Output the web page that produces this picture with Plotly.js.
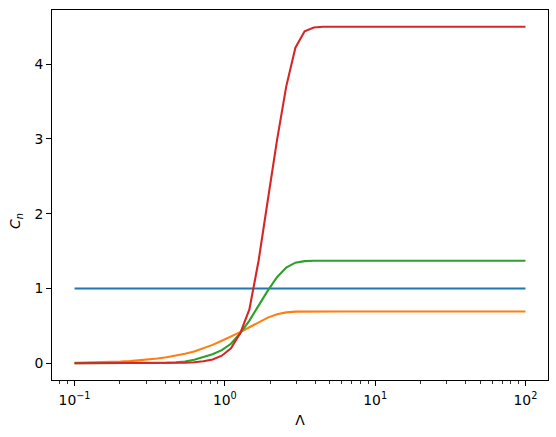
<!DOCTYPE html>
<html>
<head>
<meta charset="utf-8">
<script src="https://cdn.plot.ly/plotly-3.0.1.min.js"></script>
<style>html,body{margin:0;padding:0;background:#fff;}#chart{width:556px;height:437px;}</style>
</head>
<body>
<div id="chart"></div>
<script>
const lambdaVals = [0.1, 0.11514, 0.13257, 0.15264, 0.17575, 0.20236, 0.23300, 0.26827, 0.30888, 0.35565,
  0.40949, 0.47149, 0.54287, 0.62506, 0.71969, 0.82864, 0.95410, 1.09854, 1.26486, 1.45635,
  1.67683, 1.93070, 2.22300, 2.55955, 2.94705, 3.39322, 3.90694, 4.49843, 5.17947, 5.96362,
  6.86649, 7.90604, 9.10298, 10.4811, 12.0679, 13.8950, 15.9986, 18.4207, 21.2095, 24.4205,
  28.1177, 32.3746, 37.2759, 42.9193, 49.4171, 56.8987, 65.5129, 75.4312, 86.8511, 100];

const cBlue = [1,1,1,1,1,1,1,1,1,1, 1,1,1,1,1,1,1,1,1,1, 1,1,1,1,1,1,1,1,1,1,
  1,1,1,1,1,1,1,1,1,1, 1,1,1,1,1,1,1,1,1,1];

const cOrange = [0.005, 0.007, 0.009, 0.012, 0.016, 0.021, 0.028, 0.037, 0.048, 0.062,
  0.08, 0.10, 0.125, 0.155, 0.195, 0.245, 0.30, 0.355, 0.415, 0.48,
  0.55, 0.61, 0.655, 0.68, 0.69, 0.692, 0.692, 0.692, 0.692, 0.692,
  0.692, 0.692, 0.692, 0.692, 0.692, 0.692, 0.692, 0.692, 0.692, 0.692,
  0.692, 0.692, 0.692, 0.692, 0.692, 0.692, 0.692, 0.692, 0.692, 0.692];

const cGreen = [0, 0, 0, 0, 0.001, 0.001, 0.001, 0.002, 0.003, 0.005,
  0.008, 0.013, 0.022, 0.045, 0.08, 0.12, 0.175, 0.26, 0.40, 0.57,
  0.77, 0.97, 1.15, 1.28, 1.345, 1.365, 1.37, 1.37, 1.37, 1.37,
  1.37, 1.37, 1.37, 1.37, 1.37, 1.37, 1.37, 1.37, 1.37, 1.37,
  1.37, 1.37, 1.37, 1.37, 1.37, 1.37, 1.37, 1.37, 1.37, 1.37];

const cRed = [0, 0, 0, 0, 0, 0, 0, 0, 0, 0,
  0.001, 0.003, 0.006, 0.012, 0.025, 0.05, 0.10, 0.20, 0.40, 0.72,
  1.37, 2.18, 2.98, 3.70, 4.22, 4.44, 4.49, 4.50, 4.50, 4.50,
  4.50, 4.50, 4.50, 4.50, 4.50, 4.50, 4.50, 4.50, 4.50, 4.50,
  4.50, 4.50, 4.50, 4.50, 4.50, 4.50, 4.50, 4.50, 4.50, 4.50];

const xTickVals = [0.1, 1, 10, 100];
const xTickText = ['10<sup>\u22121</sup>', '10<sup>0</sup>', '10<sup>1</sup>', '10<sup>2</sup>'];

const seriesList = [cBlue, cOrange, cGreen, cRed];
const colors = ['#1f77b4', '#ff7f0e', '#2ca02c', '#d62728'];

const traces = seriesList.map((ys, k) => ({
  x: lambdaVals, y: ys, type: 'scatter', mode: 'lines',
  line: {color: colors[k], width: 2.1}, showlegend: false, hoverinfo: 'skip'
}));

// minor tick positions (2..9 in each decade)
const minorVals = [];
for (let d = -2; d <= 2; d++) {
  for (let m = 2; m <= 9; m++) minorVals.push(m * Math.pow(10, d));
}

const axisCommon = {
  showline: true, linecolor: 'black', linewidth: 1.1, mirror: true,
  ticks: 'outside', ticklen: 4.9, tickwidth: 1.1, tickcolor: 'black',
  showgrid: false, zeroline: false,
  tickfont: {family: 'DejaVu Sans', size: 13.9, color: 'black'}
};

const layout = {
  width: 556, height: 437,
  margin: {l: 52, r: 8, t: 10, b: 57},
  paper_bgcolor: 'white', plot_bgcolor: 'white',
  font: {family: 'DejaVu Sans', color: 'black'},
  xaxis: Object.assign({}, axisCommon, {
    type: 'log', range: [-1.15, 2.15],
    tickmode: 'array', tickvals: xTickVals, ticktext: xTickText,
    ticklabelstandoff: 2,
    minor: {tickmode: 'array', tickvals: minorVals, ticks: 'outside', ticklen: 2.8, tickwidth: 0.8, tickcolor: 'black', showgrid: false},
    title: {text: '\u039b', font: {family: 'DejaVu Sans', size: 13.9, color: 'black'}, standoff: 8}
  }),
  yaxis: Object.assign({}, axisCommon, {
    range: [-0.225, 4.725], tickmode: 'linear', tick0: 0, dtick: 1
  }),
  annotations: [{
    text: '<i>C</i><sub><i>n</i></sub>', xref: 'paper', yref: 'paper',
    x: 0, y: 0.43, xshift: -36, showarrow: false, textangle: -90,
    xanchor: 'center', yanchor: 'middle',
    font: {family: 'DejaVu Sans', size: 13.9, color: 'black'}
  }]
};

Plotly.newPlot('chart', traces, layout, {staticPlot: true, displayModeBar: false});
</script>
</body>
</html>
